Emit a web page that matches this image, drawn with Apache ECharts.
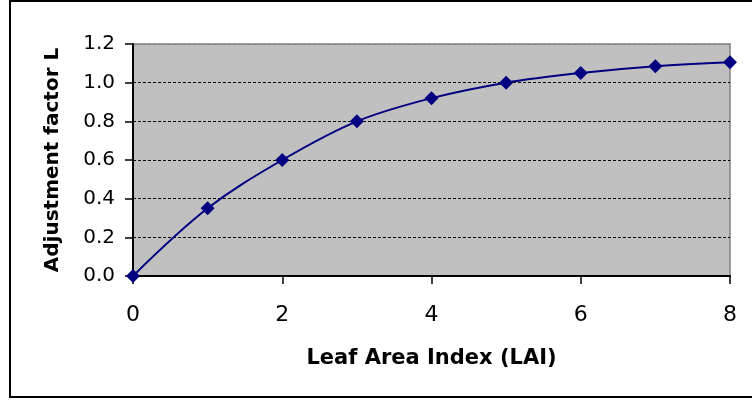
<!DOCTYPE html>
<html>
<head>
<meta charset="utf-8">
<script src="https://cdn.jsdelivr.net/npm/echarts@6/dist/echarts.min.js"></script>
<style>
  html, body { margin: 0; padding: 0; background: #fff; }
  #chart { width: 752px; height: 405px; }
</style>
</head>
<body>
<div id="chart"></div>
<script>
// LAI values and the adjustment factor
const laiValues = [0, 1, 2, 3, 4, 5, 6, 7, 8];
const factorValues = [0, 0.35, 0.60, 0.80, 0.92, 1.00, 1.05, 1.085, 1.105];
const xTitle = 'Leaf Area Index (LAI)';
const yTitle = 'Adjustment factor L';

const points = laiValues.map((x, i) => [x, factorValues[i]]);
const FONT = 'DejaVu Sans';

const chart = echarts.init(document.getElementById('chart'));
chart.setOption({
  backgroundColor: '#fff',
  animation: false,
  grid: {
    left: 133,
    top: 44,
    right: 22,
    bottom: 129,
    show: true,
    backgroundColor: '#c0c0c0',
    borderColor: '#808080',
    borderWidth: 1.5,
  },
  graphic: [{
    type: 'rect',
    shape: { x: 10, y: 1, width: 780, height: 396 },
    style: { fill: 'none', stroke: '#000', lineWidth: 2 },
    z: 100,
  }],
  xAxis: {
    type: 'value',
    min: 0,
    max: 8,
    interval: 2,
    name: xTitle,
    nameLocation: 'middle',
    nameGap: 72,
    nameTextStyle: { fontFamily: FONT, fontWeight: 'bold', fontSize: 21, color: '#000' },
    axisLine: { onZero: false, lineStyle: { color: '#000', width: 2 } },
    axisTick: { show: true, inside: false, length: 8, lineStyle: { color: '#000', width: 1.5 } },
    axisLabel: { fontFamily: FONT, fontSize: 22, color: '#000', margin: 28 },
    splitLine: { show: false },
  },
  yAxis: {
    type: 'value',
    min: 0,
    max: 1.2,
    interval: 0.2,
    name: yTitle,
    nameLocation: 'middle',
    nameGap: 70,
    nameTextStyle: { fontFamily: FONT, fontWeight: 'bold', fontSize: 20, color: '#000' },
    axisLine: { show: true, onZero: false, lineStyle: { color: '#000', width: 2 } },
    axisTick: { show: true, inside: false, length: 8, lineStyle: { color: '#000', width: 1.5 } },
    axisLabel: {
      fontFamily: FONT, fontSize: 20, color: '#000', margin: 18,
      formatter: v => v.toFixed(1),
    },
    splitLine: {
      show: true,
      lineStyle: {
        color: ['#000', '#000', '#000', '#000', '#000', '#000', '#808080'],
        type: [3, 2],
        width: 1,
      },
    },
  },
  series: [{
    type: 'line',
    data: points,
    smooth: 0.35,
    symbol: 'diamond',
    symbolSize: [14, 14],
    showSymbol: true,
    lineStyle: { color: '#000080', width: 2 },
    itemStyle: { color: '#000080' },
    z: 5,
  }],
});
</script>
</body>
</html>
